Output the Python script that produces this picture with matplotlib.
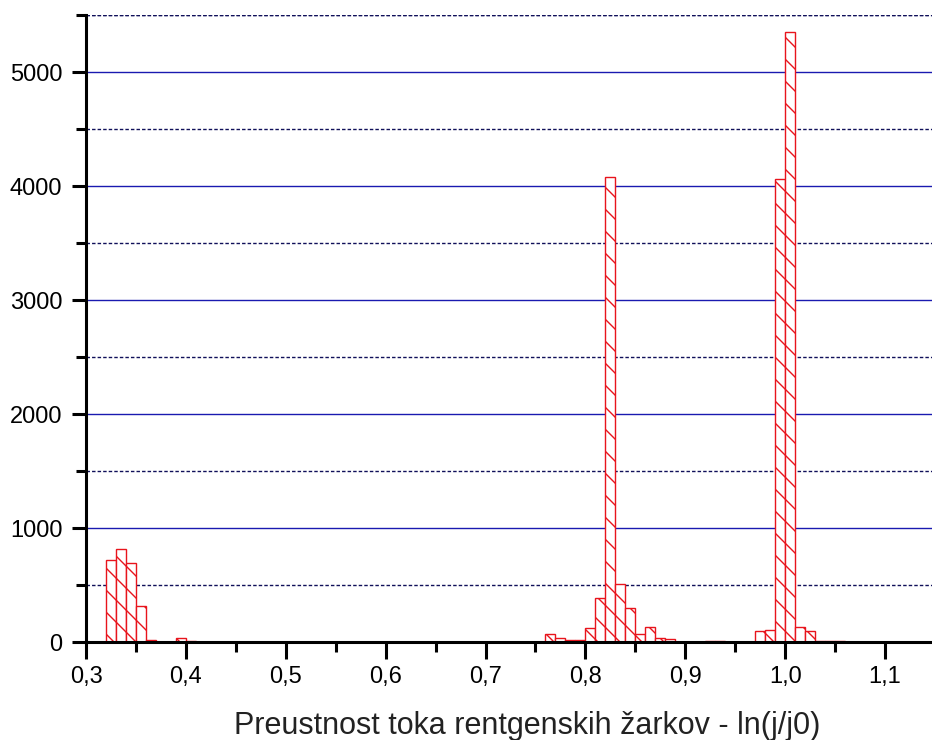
import matplotlib
matplotlib.use("Agg")
import matplotlib.pyplot as plt
from matplotlib.ticker import MultipleLocator, FuncFormatter

# --- data (bin width 0.01) -------------------------------------------------

bin_starts = [0.32, 0.33, 0.34, 0.35, 0.36, 0.39, 0.40,
              0.76, 0.77, 0.78, 0.79, 0.80, 0.81, 0.82, 0.83, 0.84,
              0.85, 0.86, 0.87, 0.88, 0.92, 0.93,
              0.97, 0.98, 0.99, 1.00, 1.01, 1.02, 1.03, 1.04, 1.05]
counts = [718, 814, 692, 318, 20, 32, 8,
          70, 32, 20, 20, 120, 383, 4080, 508, 295,
          70, 134, 32, 23, 6, 6,
          96, 108, 4063, 5355, 134, 96, 10, 8, 6]
bin_width = 0.01

x_label = "Preustnost toka rentgenskih žarkov - ln(j/j0)"

# --- plot --------------------------------------------------------------------
# low dpi so the hatch spacing (dpi/6 px) comes out near the reference's ~11 px;
# K converts "points at 100 dpi" into points at this dpi
DPI = 66
K = 100 / DPI

plt.rcParams["font.family"] = ["Liberation Sans", "DejaVu Sans"]
plt.rcParams["hatch.linewidth"] = 1.0 * K
plt.rcParams["hatch.color"] = "#e8141c"

fig = plt.figure(figsize=(932 / DPI, 740 / DPI), dpi=DPI)
ax = fig.add_axes([0.0923, 0.1324, 0.9077, 0.8473])

ax.bar(bin_starts, counts, width=bin_width, align="edge",
       facecolor="white", edgecolor="#e8141c", linewidth=1.0 * K,
       hatch="\\", zorder=3)

ax.set_xlim(0.3, 1.147)
ax.set_ylim(0, 5500)

ax.xaxis.set_major_locator(MultipleLocator(0.1))
ax.xaxis.set_minor_locator(MultipleLocator(0.05))
ax.yaxis.set_major_locator(MultipleLocator(1000))
ax.yaxis.set_minor_locator(MultipleLocator(500))
ax.xaxis.set_major_formatter(FuncFormatter(lambda v, p: f"{v:.1f}".replace(".", ",")))

# horizontal grid: solid blue majors, dashed dark minors
ax.grid(axis="y", which="major", color="#1a1ab0", linewidth=1.0 * K, linestyle="-", zorder=1)
ax.grid(axis="y", which="minor", color="#10105a", linewidth=1.0 * K,
        linestyle=(0, (2.5, 1.5)), zorder=1)
ax.axhline(5500, color="#10105a", linewidth=1.0 * K, linestyle=(0, (2.5, 1.5)), zorder=1)

for side in ("top", "right"):
    ax.spines[side].set_visible(False)
for side in ("left", "bottom"):
    ax.spines[side].set_linewidth(2.2 * K)
ax.spines["bottom"].set_zorder(4)

ax.tick_params(axis="x", which="major", length=12 * K, width=2.2 * K,
               labelsize=17 * K, pad=5 * K)
ax.tick_params(axis="x", which="minor", length=7 * K, width=2.2 * K)
ax.tick_params(axis="y", which="major", length=10 * K, width=2.2 * K,
               labelsize=17 * K, pad=7 * K)
ax.tick_params(axis="y", which="minor", length=7 * K, width=2.2 * K)

ax.set_xlabel(x_label, fontsize=22 * K, labelpad=17 * K, color="#222222", x=0.522)

fig.savefig("out.png", dpi=DPI)
